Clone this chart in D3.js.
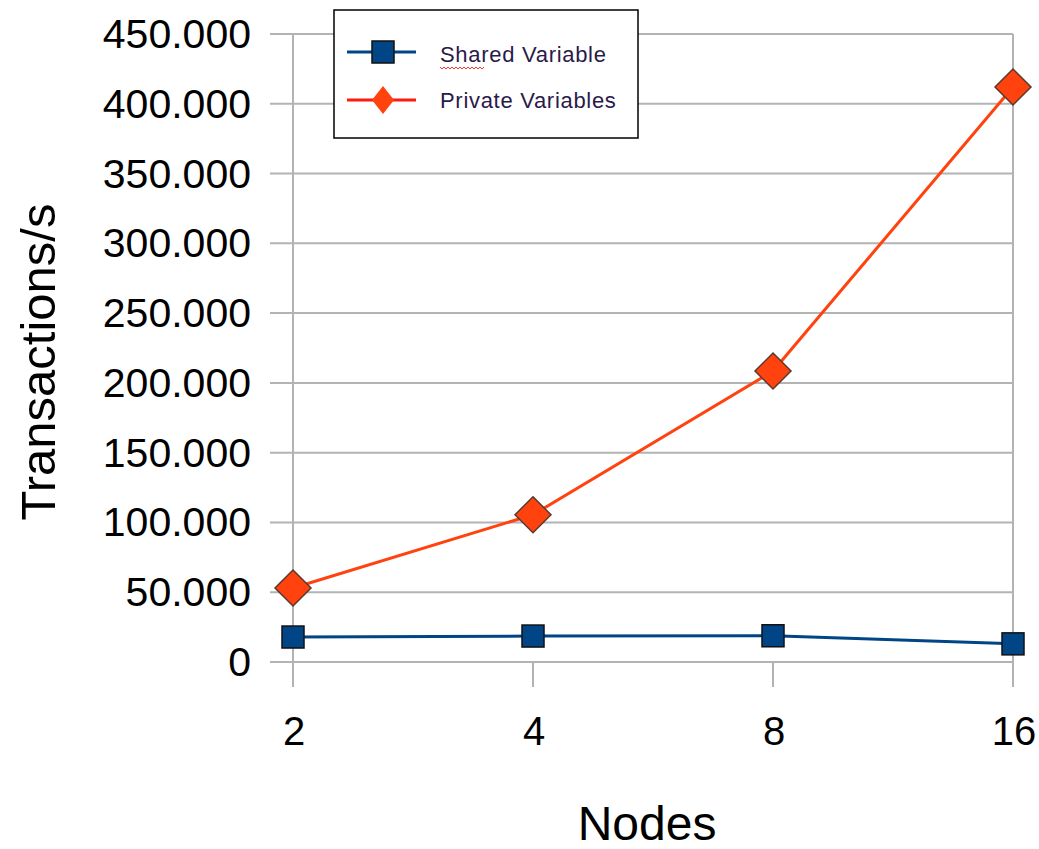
<!DOCTYPE html>
<html>
<head>
<meta charset="utf-8">
<script src="https://cdn.jsdelivr.net/npm/d3@7"></script>
<style>
body { margin: 0; background: #fff; }
text { font-family: "Liberation Sans", Arial, sans-serif; }
</style>
</head>
<body>
<div id="chart"></div>
<script>
var w = 1039,
	h = 849;

// data
var nodes = ['2', '4', '8', '16'];
var shared = [17900, 18600, 18800, 13000];
var priv = [53000, 105500, 208500, 412000];
var yTicks = [0, 50000, 100000, 150000, 200000, 250000, 300000, 350000, 400000, 450000];
var seriesNames = ['Shared Variable', 'Private Variables'];

var pLeft = 293, pRight = 1013, pTop = 34, pBottom = 662;

var svg = d3.select('#chart').append('svg')
	.attr('width', w)
	.attr('height', h);

var x = d3.scalePoint().domain(nodes).range([pLeft, pRight]);
var y = d3.scaleLinear().domain([0, 450000]).range([pBottom, pTop]);

var fmt = function(d) { return d === 0 ? '0' : d3.format(',')(d).replace(/,/g, '.'); };

// horizontal grid
svg.append('g').selectAll('line')
	.data(yTicks)
	.enter().append('line')
	.attr('x1', pLeft - 23)
	.attr('x2', pRight)
	.attr('y1', function(d) { return y(d); })
	.attr('y2', function(d) { return y(d); })
	.style('stroke', '#b3b3b3')
	.style('stroke-width', 2);

// vertical axis + right border
svg.append('line').attr('x1', pLeft).attr('x2', pLeft).attr('y1', pTop).attr('y2', pBottom + 25)
	.style('stroke', '#b3b3b3').style('stroke-width', 2);
svg.append('line').attr('x1', pRight).attr('x2', pRight).attr('y1', pTop).attr('y2', pBottom + 25)
	.style('stroke', '#b3b3b3').style('stroke-width', 2);

// x ticks
svg.append('g').selectAll('line')
	.data(nodes)
	.enter().append('line')
	.attr('x1', function(d) { return x(d); })
	.attr('x2', function(d) { return x(d); })
	.attr('y1', pBottom)
	.attr('y2', pBottom + 25)
	.style('stroke', '#b3b3b3')
	.style('stroke-width', 2);

// y tick labels
svg.append('g').selectAll('text')
	.data(yTicks)
	.enter().append('text')
	.attr('x', 251)
	.attr('y', function(d) { return y(d) + 14; })
	.attr('text-anchor', 'end')
	.style('font-size', '41px')
	.style('fill', '#000')
	.text(fmt);

// x tick labels
svg.append('g').selectAll('text')
	.data(nodes)
	.enter().append('text')
	.attr('x', function(d) { return x(d) + 1; })
	.attr('y', 745)
	.attr('text-anchor', 'middle')
	.style('font-size', '40px')
	.style('fill', '#000')
	.text(function(d) { return d; });

// axis titles
svg.append('text')
	.attr('transform', 'translate(55,362) rotate(-90)')
	.attr('text-anchor', 'middle')
	.style('font-size', '49px')
	.text('Transactions/s');
svg.append('text')
	.attr('x', 647)
	.attr('y', 840)
	.attr('text-anchor', 'middle')
	.style('font-size', '48px')
	.text('Nodes');

var line = d3.line()
	.x(function(d, i) { return x(nodes[i]); })
	.y(function(d) { return y(d); });

// shared series
svg.append('path').datum(shared)
	.attr('d', line)
	.style('fill', 'none')
	.style('stroke', '#004586')
	.style('stroke-width', 3);
svg.append('g').selectAll('rect')
	.data(shared)
	.enter().append('rect')
	.attr('x', function(d, i) { return x(nodes[i]) - 11; })
	.attr('y', function(d) { return y(d) - 11; })
	.attr('width', 22)
	.attr('height', 22)
	.style('fill', '#004586')
	.style('stroke', '#111')
	.style('stroke-width', 1.5);

// private series
svg.append('path').datum(priv)
	.attr('d', line)
	.style('fill', 'none')
	.style('stroke', '#ff420e')
	.style('stroke-width', 3);
svg.append('g').selectAll('path.dia')
	.data(priv)
	.enter().append('path')
	.attr('class', 'dia')
	.attr('transform', function(d, i) { return 'translate(' + x(nodes[i]) + ',' + y(d) + ')'; })
	.attr('d', 'M0,-18L18,0L0,18L-18,0Z')
	.style('fill', '#ff420e')
	.style('stroke', '#5b3a2e')
	.style('stroke-width', 1.5);

// legend
var lg = svg.append('g');
lg.append('rect')
	.attr('x', 334).attr('y', 10).attr('width', 304).attr('height', 128)
	.style('fill', '#fff').style('stroke', '#000').style('stroke-width', 1.5);

lg.append('line').attr('x1', 347).attr('x2', 416).attr('y1', 52).attr('y2', 52)
	.style('stroke', '#004586').style('stroke-width', 3);
lg.append('rect').attr('x', 372).attr('y', 41).attr('width', 22).attr('height', 22)
	.style('fill', '#004586').style('stroke', '#111').style('stroke-width', 1.5);

lg.append('line').attr('x1', 347).attr('x2', 416).attr('y1', 100).attr('y2', 100)
	.style('stroke', '#ff1a0e').style('stroke-width', 3);
lg.append('path').attr('transform', 'translate(383,100)')
	.attr('d', 'M0,-14L11,0L0,14L-11,0Z')
	.style('fill', '#ff420e');

lg.selectAll('text.lab')
	.data(seriesNames)
	.enter().append('text')
	.attr('class', 'lab')
	.attr('x', 440)
	.attr('y', function(d, i) { return 62 + i * 46; })
	.style('font-size', '22px')
	.style('letter-spacing', '0.7px')
	.style('fill', '#2a1a4a')
	.text(function(d) { return d; });

// spellcheck squiggle under "Shared"
var sq = 'M440,67';
for (var i = 0; i < 22; i++) sq += 'l2,' + (i % 2 ? -2 : 2);
lg.append('path').attr('d', sq).style('fill', 'none').style('stroke', '#ff3030').style('stroke-width', 1);
</script>
</body>
</html>
